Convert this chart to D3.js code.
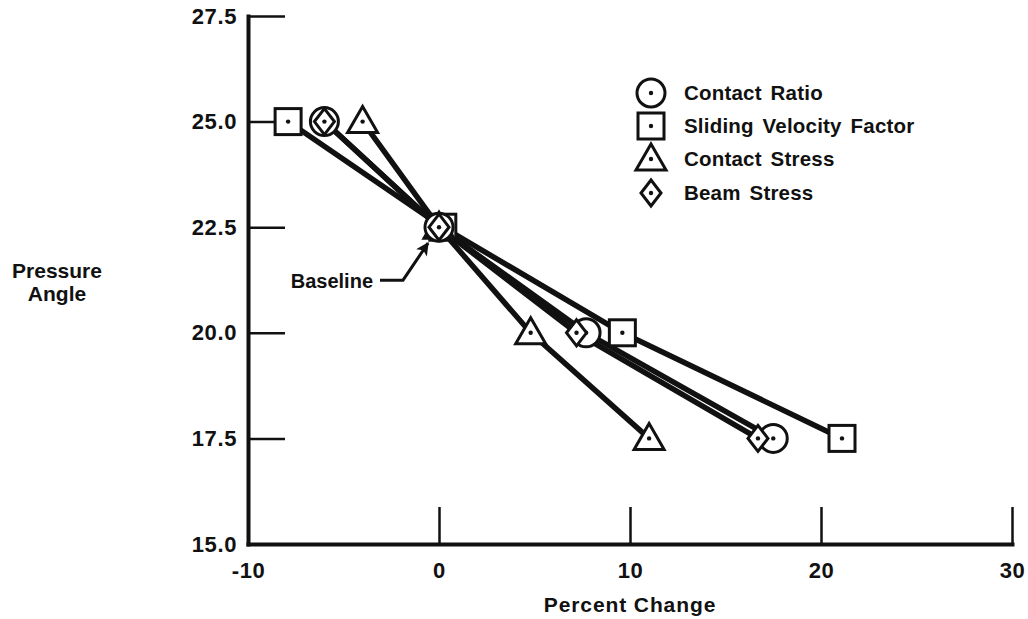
<!DOCTYPE html>
<html>
<head>
<meta charset="utf-8">
<script src="https://cdn.jsdelivr.net/npm/d3@7"></script>
<style>
  body { margin: 0; background: #fff; }
  svg { display: block; }
  text { font-family: "Liberation Sans", Arial, sans-serif; font-weight: bold; fill: #111; }
</style>
</head>
<body>
<div id="chart"></div>
<script>
// Valeurs
const pressureAngles = [25.0, 22.5, 20.0, 17.5];
const contactRatio = [-6.0, 0.0, 7.7, 17.5];
const slidingVelocity = [-7.9, 0.2, 9.6, 21.1];
const contactStress = [-4.0, 0.0, 4.8, 11.0];
const beamStress = [-6.0, 0.0, 7.2, 16.7];

const xTicks = [-10, 0, 10, 20, 30];
const yTicks = [15.0, 17.5, 20.0, 22.5, 25.0, 27.5];

const series = [
    { name: 'Contact Ratio', values: contactRatio, symbol: 'circle' },
    { name: 'Sliding Velocity Factor', values: slidingVelocity, symbol: 'square' },
    { name: 'Contact Stress', values: contactStress, symbol: 'triangle' },
    { name: 'Beam Stress', values: beamStress, symbol: 'diamond' }
];

const width = 1028, height = 619;
const margin = { left: 248, right: 16, top: 16, bottom: 75 };

const svg = d3.select('#chart').append('svg')
    .attr('width', width)
    .attr('height', height);

const x = d3.scaleLinear().domain([-10, 30]).range([margin.left, width - margin.right]);
const y = d3.scaleLinear().domain([15, 27.5]).range([height - margin.bottom, margin.top]);

// Axes avec graduations vers l'intérieur
const xAxis = svg.append('g')
    .attr('transform', `translate(0,${y(15)})`)
    .call(d3.axisBottom(x).tickValues(xTicks).tickSizeInner(-37).tickSizeOuter(0)
        .tickPadding(18).tickFormat(d => String(d)));

const yAxis = svg.append('g')
    .attr('transform', `translate(${x(-10)},0)`)
    .call(d3.axisLeft(y).tickValues(yTicks).tickSizeInner(-37).tickSizeOuter(0)
        .tickPadding(11).tickFormat(d3.format('.1f')));

[xAxis, yAxis].forEach(g => {
    g.select('.domain').attr('stroke', '#111').attr('stroke-width', 4).attr('stroke-linecap', 'square');
    g.selectAll('.tick line').attr('stroke', '#111').attr('stroke-width', 2.5);
    g.selectAll('.tick text').style('font-size', '22px').style('letter-spacing', '0.6px').attr('fill', '#111');
});

// Titres des axes
svg.append('text')
    .attr('x', x(10))
    .attr('y', 612)
    .attr('text-anchor', 'middle')
    .style('font-size', '21px')
    .style('letter-spacing', '0.9px')
    .text('Percent Change');

svg.append('text')
    .attr('x', 57)
    .attr('y', 278)
    .attr('text-anchor', 'middle')
    .style('font-size', '21px')
    .selectAll('tspan')
    .data(['Pressure', 'Angle'])
    .enter()
    .append('tspan')
    .attr('x', 57)
    .attr('dy', (d, i) => i === 0 ? 0 : 23)
    .text(d => d);

// Lignes
const line = d3.line()
    .x(d => x(d[0]))
    .y(d => y(d[1]));

svg.append('g')
    .selectAll('path')
    .data(series)
    .enter()
    .append('path')
    .attr('d', s => line(s.values.map((v, i) => [v, pressureAngles[i]])))
    .attr('fill', 'none')
    .attr('stroke', '#111')
    .attr('stroke-width', 5.5)
    .attr('stroke-linejoin', 'round');

// Fonction pour dessiner un marqueur
function drawMarker(g, symbol) {
    const common = sel => sel.attr('fill', '#fff').attr('stroke', '#111').attr('stroke-width', 3);
    if (symbol === 'circle') {
        g.append('circle').attr('r', 14).call(common);
    } else if (symbol === 'square') {
        g.append('rect').attr('x', -13).attr('y', -13).attr('width', 26).attr('height', 26).call(common);
    } else if (symbol === 'triangle') {
        g.append('path').attr('d', 'M0,-15 L15,11 L-15,11 Z').attr('stroke-linejoin', 'miter').call(common);
    } else if (symbol === 'diamond') {
        g.append('path').attr('d', 'M0,-13 L10,0 L0,13 L-10,0 Z').call(common);
    }
    g.append('circle').attr('r', 2.2).attr('fill', '#111');
}

const drawOrder = ['square', 'triangle', 'circle', 'diamond'];
drawOrder.forEach(sym => {
    const s = series.find(d => d.symbol === sym);
    s.values.forEach((v, i) => {
        const g = svg.append('g').attr('transform', `translate(${x(v)},${y(pressureAngles[i])})`);
        drawMarker(g, sym);
    });
});

// Légende
const legend = svg.append('g').attr('transform', 'translate(651,93)');
series.forEach((s, i) => {
    const row = legend.append('g').attr('transform', `translate(0,${[0, 33, 66, 100][i]})`);
    drawMarker(row, s.symbol);
    row.append('text')
        .attr('x', 33)
        .attr('y', 7)
        .style('font-size', '20.5px')
        .style('letter-spacing', '0.2px')
        .style('word-spacing', '3px')
        .text(s.name);
});

// Annotation "Baseline"
const bx = x(0), by = y(22.5);
svg.append('defs').append('marker')
    .attr('id', 'arrow')
    .attr('viewBox', '0 0 10 10')
    .attr('refX', 9).attr('refY', 5)
    .attr('markerUnits', 'userSpaceOnUse')
    .attr('markerWidth', 16).attr('markerHeight', 13)
    .attr('orient', 'auto')
    .append('path')
    .attr('d', 'M0,0 L10,5 L0,10 L2.5,5 Z')
    .attr('fill', '#111');

svg.append('path')
    .attr('d', `M${bx - 59},${by + 53} L${bx - 36},${by + 53} L${bx - 11},${by + 16}`)
    .attr('fill', 'none')
    .attr('stroke', '#111')
    .attr('stroke-width', 3)
    .attr('marker-end', 'url(#arrow)');

svg.append('text')
    .attr('x', bx - 66)
    .attr('y', by + 61)
    .attr('text-anchor', 'end')
    .style('font-size', '20px')
    .text('Baseline');
</script>
</body>
</html>
